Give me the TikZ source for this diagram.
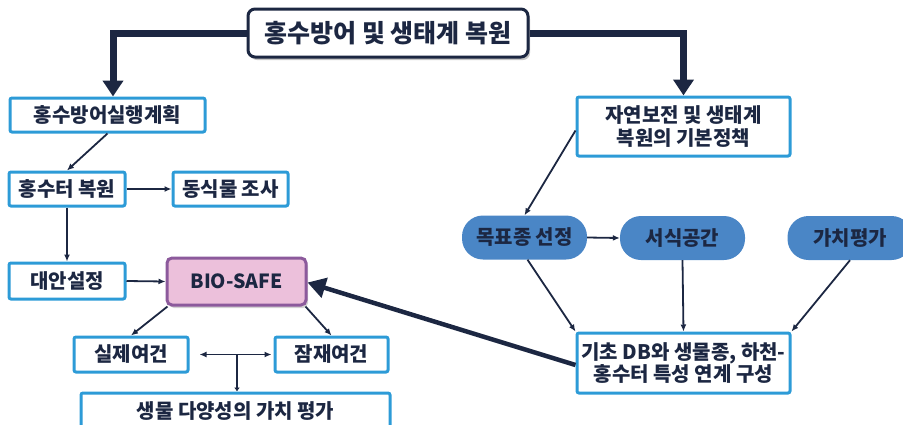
\documentclass[tikz,border=0pt]{standalone}
\usepackage{fontspec}
\setmainfont{Noto Sans CJK KR}
\usepackage{tikz}
\usetikzlibrary{arrows, arrows.meta, positioning, shadows}

\definecolor{navy}{RGB}{28,39,66}
\definecolor{boxblue}{RGB}{45,155,215}
\definecolor{pillblue}{RGB}{74,134,198}
\definecolor{biopink}{RGB}{236,192,219}
\definecolor{biopurple}{RGB}{140,90,156}

\begin{document}
\begin{tikzpicture}[
    x=1pt, y=-1pt,
    every node/.style={align=center, inner sep=0pt, text=navy, font=\fontsize{20}{22.5}\selectfont\bfseries},
    box/.style={rectangle, draw=boxblue, line width=3pt, fill=white, rounded corners=2pt},
    pill/.style={rectangle, fill=pillblue, rounded corners=21pt, minimum width=125pt, minimum height=44pt},
    titlebox/.style={rectangle, draw=navy, line width=3pt, fill=white, rounded corners=7pt,
        minimum width=280pt, minimum height=48pt, font=\fontsize{25}{28}\selectfont\bfseries,
        drop shadow={shadow xshift=2pt, shadow yshift=-3pt, opacity=0.45}},
    biobox/.style={rectangle, draw=biopurple, line width=3pt, fill=biopink, rounded corners=5pt,
        minimum width=139pt, minimum height=47pt, font=\fontsize{19.5}{22}\selectfont\bfseries,
        drop shadow={shadow xshift=2pt, shadow yshift=-3pt, opacity=0.35}},
    link/.style={-{Latex[length=7pt, width=6pt]}, draw=navy, line width=1.8pt},
    bigarrow/.style={-{Triangle[length=16pt, width=20pt]}, draw=navy, line width=7pt},
]
\useasboundingbox (0,0) rectangle (903,424);

\node (title) [titlebox] at (388,33) {홍수방어 및 생태계 복원};

\node (plan)   [box, minimum width=195pt, minimum height=34pt] at (107.5,115) {홍수방어실행계획};
\node (restore)[box, minimum width=116pt, minimum height=34pt] at (67,189) {홍수터 복원};
\node (survey) [box, minimum width=115pt, minimum height=34pt, right=45pt of restore] {동식물 조사};
\node (alt)    [box, minimum width=116pt, minimum height=36pt] at (67,281) {대안설정};
\node (bio)    [biobox] at (236.5,281.5) {BIO-SAFE};
\node (real)   [box, minimum width=114pt, minimum height=35pt] at (131,354.5) {실제여건};
\node (latent) [box, minimum width=113pt, minimum height=35pt] at (331.5,354.5) {잠재여건};
\node (value)  [box, minimum width=309pt, minimum height=36pt] at (235.5,411) {생물 다양성의 가치 평가};

\node (policy) [box, minimum width=213pt, minimum height=59pt] at (683.5,126.5) {자연보전 및 생태계\\복원의 기본정책};
\node (target) [pill] at (524.5,237.5) {목표종 선정};
\node (habitat)[pill] at (682.5,238) {서식공간};
\node (worth)  [pill] at (850,238) {가치평가};
\node (db)     [box, minimum width=213pt, minimum height=60pt] at (683.5,363) {기초 DB와 생물종, 하천-\\홍수터 특성 연계 구성};

\draw [bigarrow] (title.west) -| ([xshift=5.5pt]plan.north);
\draw [bigarrow] (title.east) -| (policy.north);

\draw [link] (plan.south) -- (restore.north);
\draw [link] (restore.east) -- (survey.west);
\draw [link] (restore.south) -- (alt.north);
\draw [link] (alt.east) -- (bio.west);
\draw [link] ([xshift=2pt]bio.south west) -- (real.north);
\draw [link] ([xshift=-2pt]bio.south east) -- (latent.north);
\draw [link, {Latex[length=7pt, width=6pt]}-{Latex[length=7pt, width=6pt]}, shorten <=10pt, shorten >=2pt] (real.east) -- (latent.west);
\draw [link, -{Latex[length=4pt, width=6pt]}] ([xshift=1.5pt]value.north |- real.east) -- ([xshift=1.5pt]value.north);

\draw [link] ([yshift=-4pt]policy.west) -- (target.north);
\draw [link] (target.east) -- (habitat.west);
\draw [link] ([xshift=3pt]target.south) -- (db.north west);
\draw [link] (habitat.south) -- (db.north);
\draw [link] (worth.south) -- (db.north east);
\draw [-{Triangle[length=18pt, width=20pt]}, draw=navy, line width=4.5pt] ([yshift=-2pt]db.west) -- ([yshift=-1pt]bio.east);

\end{tikzpicture}
\end{document}
